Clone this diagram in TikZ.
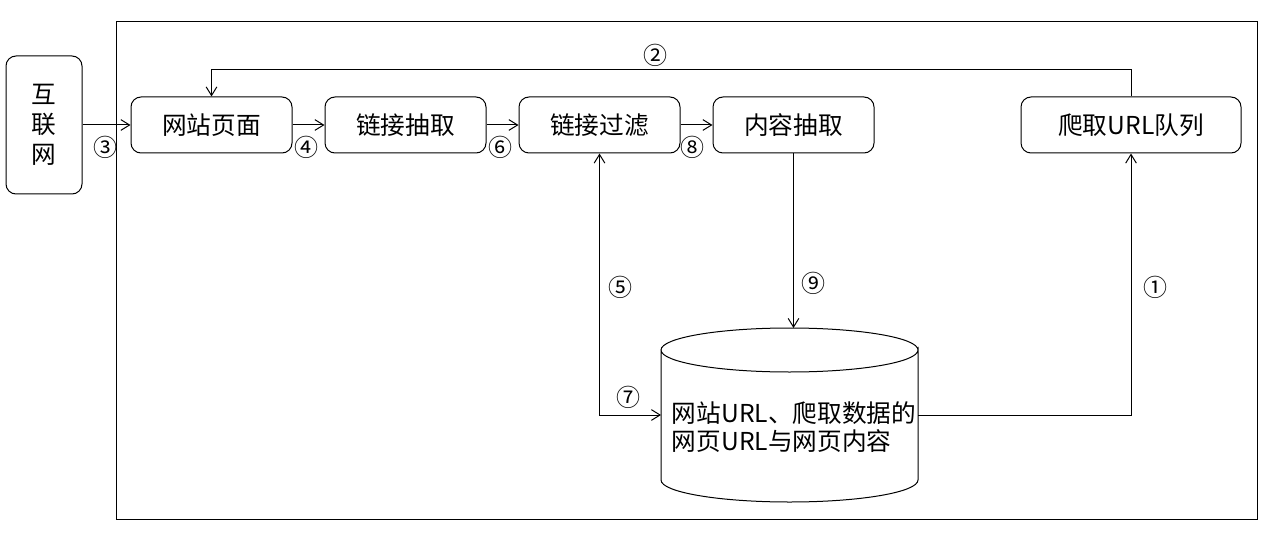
\documentclass[tikz,border=0pt]{standalone}
\usepackage{fontspec}
\setmainfont{Noto Sans CJK SC}
\usetikzlibrary{positioning, arrows.meta}
\tikzset{stepbox/.style={draw, rounded corners=7.5pt, minimum width=120.75pt, minimum height=42pt, inner sep=0pt, font=\fontsize{18.5}{22.5}\selectfont}}
\tikzset{num/.style={inner sep=0pt, font=\fontsize{18}{20}\selectfont}}
\tikzset{flow/.style={->, line width=0.75pt}}

\begin{document}
\begin{tikzpicture}[x=0.75pt, y=-0.75pt, line width=0.75pt, >={Straight Barb[length=6.5pt, width=8pt]}]
  \useasboundingbox (0,0) rectangle (1276,545);
  \draw (116,22) rectangle (1257,519);

  \node[stepbox, minimum width=57pt, minimum height=103.5pt, align=center] (net) at (44,125) {互\\联\\网};
  \node[stepbox] (page) at (211.5,125) {网站页面};
  \node[stepbox] (links) [right=24pt of page] {链接抽取};
  \node[stepbox] (filter) [right=24pt of links] {链接过滤};
  \node[stepbox] (content) [right=24pt of filter] {内容抽取};
  \node[stepbox, minimum width=165pt] (queue) at (1131,125) {爬取URL队列};

  % database cylinder
  \draw (661,350) -- (661,480) arc[start angle=180, end angle=0, x radius=128.5, y radius=22]
    -- (918,350) arc[start angle=0, end angle=180, x radius=128.5, y radius=22]
    arc[start angle=180, end angle=360, x radius=128.5, y radius=22];
  \coordinate (dbtop) at (789.5,328);
  \coordinate (dbleft) at (661,415);
  \coordinate (dbright) at (918,415);
  \node[align=left, inner sep=0pt, font=\fontsize{18.5}{21}\selectfont] (db) at (794,427) {网站URL、爬取数据的\\网页URL与网页内容};

  \draw[flow] (net) -- (page);
  \draw[flow] (page) -- (links);
  \draw[flow] (links) -- (filter);
  \draw[flow] (filter) -- (content);
  \draw[flow] (queue.north) -- ++(0,-27) -| (page.north);
  \draw[flow] (content.south) -- (content.south |- dbtop);
  \draw[flow] (dbright) -| (queue.south);
  \draw[flow, <->] (filter.south) |- (dbleft);

  \node[num] (n1) at (1155,287) {①};
  \node[num] (n2) at (655,55) {②};
  \node[num] (n3) at (105,147) {③};
  \node[num] (n4) at (306,147) {④};
  \node[num] (n5) at (620,287) {⑤};
  \node[num] (n6) at (500,147) {⑥};
  \node[num] (n7) at (628,397) {⑦};
  \node[num] (n8) at (692,147) {⑧};
  \node[num] (n9) at (813,283) {⑨};
\end{tikzpicture}
\end{document}
